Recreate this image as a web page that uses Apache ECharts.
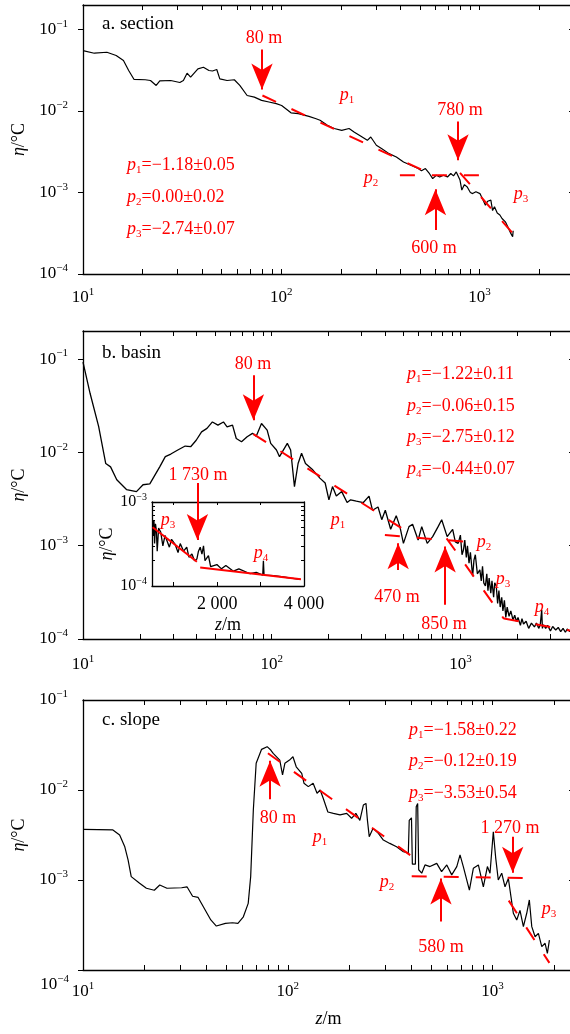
<!DOCTYPE html>
<html>
<head>
<meta charset="utf-8">
<script src="https://cdn.jsdelivr.net/npm/echarts@6/dist/echarts.min.js"></script>
<style>
  html, body { margin: 0; padding: 0; background: #fff; }
  #chart { width: 570px; height: 1034px; }
</style>
</head>
<body>
<div id="chart"></div>
<script>
// a. section
const sectionZ = [10, 11.4, 13.2, 14.7, 16.0, 17.0, 18.1, 20.6, 21.9, 23.4, 24.4, 27.7, 30.8, 32.1, 33.5, 34.9, 38.0, 40.5, 43.2, 45.0,
  47.3, 49.0, 53.3, 58.0, 61.8, 67.3, 73.2, 79.6, 86.7, 94.4, 100.5, 112, 122, 138, 150, 157, 171, 185, 202, 220,
  234, 249, 272, 283, 302, 322, 350, 381, 414, 451, 491, 510, 534, 560, 581, 606, 630, 659, 690, 717,
  740, 764, 798, 815, 840, 868, 900, 924, 960, 1006, 1040, 1072, 1100, 1142, 1165, 1191, 1230, 1268, 1300, 1352,
  1390, 1440, 1460, 1471, 1480];
const sectionEta = [0.0552, 0.0512, 0.0526, 0.048, 0.0416, 0.0314, 0.0244, 0.0242, 0.0237, 0.0206, 0.0234, 0.0237, 0.0224, 0.0237, 0.0291, 0.026, 0.0329, 0.0344, 0.0314, 0.031,
  0.0323, 0.0248, 0.0237, 0.0242, 0.0206, 0.0155, 0.0148, 0.0135, 0.0129, 0.0123, 0.0117, 0.0095, 0.0093, 0.0086, 0.00805, 0.0077, 0.0067, 0.0061, 0.0058, 0.0061,
  0.0055, 0.0050, 0.00437, 0.0048, 0.0038, 0.00345, 0.0030, 0.00273, 0.00237, 0.00216, 0.00197, 0.00185, 0.00197, 0.0017, 0.00148, 0.00163, 0.00155, 0.00163, 0.00155, 0.00171,
  0.0016, 0.00179, 0.00142, 0.00107, 0.00125, 0.00117, 0.0010, 0.00097, 0.00102, 0.00097, 0.00082, 0.0007, 0.00078, 0.000805, 0.0006, 0.00067, 0.00056, 0.00053, 0.00048, 0.000437,
  0.00038, 0.000315, 0.00033, 0.000287, 0.00034];
// fitted segments [z1, eta1, z2, eta2]
const sectionFits = [[80.4, 0.0155, 512, 0.0019], [397, 0.00163, 1000, 0.00163], [798, 0.00174, 1473, 0.000315]];
// break arrows [z, eta at tail, eta at head]
const sectionBreaks = [[80, 0.0568, 0.0184], [780, 0.00746, 0.00248], [600, 0.000346, 0.0011]];

// b. basin
const basinZ = [10, 10.9, 12.1, 13.2, 14.0, 15.1, 17.0, 19.2, 20.8, 22.6, 25.5, 27.3, 29.2, 31.8, 34.8, 37.2, 39.8, 42.5, 45.4, 48.5,
  51.9, 55.5, 58.0, 62.0, 64.9, 69.2, 74.1, 79.1, 82.8, 88.3, 94.6, 98.8, 106, 110, 121, 126, 132, 138, 144, 151,
  165, 180, 192, 201, 210, 220, 235, 251, 262, 281, 306, 328, 342, 366, 383, 400, 427, 457, 478, 499,
  534, 558, 597, 624, 667, 713, 762, 796, 851, 910,
  940, 973, 1000, 1020, 1038, 1055, 1075, 1090, 1111, 1130, 1161, 1180, 1200, 1230, 1268, 1290, 1310, 1330, 1357, 1380,
  1400, 1420, 1449, 1470, 1500, 1520, 1549, 1575, 1600, 1625, 1656, 1680, 1711, 1740, 1770, 1811, 1850, 1900, 1940, 1979,
  2020, 2080, 2120, 2161, 2230, 2300, 2380, 2468, 2530, 2600, 2650, 2698, 2720, 2758, 2830, 2900, 3000, 3083, 3200, 3300,
  3400, 3500, 3600, 3684, 3800, 3900];
const basinEta = [0.093, 0.043, 0.019, 0.0076, 0.0070, 0.0051, 0.0040, 0.0038, 0.0045, 0.0046, 0.0070, 0.0090, 0.0096, 0.0106, 0.0117, 0.0115, 0.0135, 0.0166, 0.0181, 0.0212,
  0.0196, 0.0212, 0.0188, 0.0196, 0.0141, 0.0130, 0.0147, 0.0160, 0.0149, 0.0204, 0.0173, 0.0125, 0.0106, 0.0090, 0.0125, 0.0106, 0.0043, 0.0076, 0.0098, 0.0076,
  0.0065, 0.0053, 0.0047, 0.0031, 0.0043, 0.0034, 0.0038, 0.0029, 0.0031, 0.0030, 0.0029, 0.0034, 0.0024, 0.0026, 0.0019, 0.0024, 0.0015, 0.0021, 0.0016, 0.00106,
  0.0016, 0.0017, 0.00115, 0.0016, 0.00106, 0.00125, 0.0016, 0.0019, 0.00125, 0.0015,
  0.0011, 0.00106, 0.0013, 0.0008, 0.0009, 0.00115, 0.00075, 0.001, 0.00065, 0.00085, 0.00047, 0.0007, 0.0008, 0.0005, 0.00055, 0.00042, 0.0006, 0.0004, 0.00037, 0.0005,
  0.00033, 0.00045, 0.00031, 0.00042, 0.00028, 0.0004, 0.00037, 0.00024, 0.00033, 0.00022, 0.00028, 0.0002, 0.00026, 0.00017, 0.00022, 0.000175, 0.0002, 0.00016, 0.00018, 0.000155,
  0.00017, 0.00014, 0.000165, 0.000145, 0.000155, 0.00013, 0.000148, 0.000135, 0.000148, 0.00013, 0.000142, 0.000206, 0.00013, 0.000142, 0.00013, 0.00014, 0.000122, 0.000136, 0.000125, 0.000133,
  0.00012, 0.00013, 0.000118, 0.000128, 0.00012, 0.000125];
const basinFits = [[80, 0.0157, 488, 0.00154], [398, 0.0013, 1035, 0.00111], [845, 0.0012, 1702, 0.000164], [1702, 0.000166, 3810, 0.000123]];
const basinBreaks = [[80, 0.0671, 0.0221], [468, 0.00055, 0.00106], [830, 0.000233, 0.00098], [40.4, 0.0047, 0.00115]];

// b. inset (linear depth)
const insetZ = [514, 530, 545, 560, 580, 600, 620, 652, 700, 750, 800, 845, 900, 950, 1036, 1100, 1150, 1227, 1300, 1350,
  1419, 1480, 1534, 1570, 1610, 1650, 1686, 1720, 1800, 1850, 1994, 2100, 2200, 2375, 2500, 2759, 2900, 3050, 3065, 3080,
  3300, 3525, 3700, 3908];
const insetEta = [6.1e-4, 4.0e-4, 6.1e-4, 3.2e-4, 5.5e-4, 4.6e-4, 2.6e-4, 4.9e-4, 4.4e-4, 3.0e-4, 4.0e-4, 3.9e-4, 2.9e-4, 3.6e-4, 3.1e-4, 2.5e-4, 3.2e-4, 2.6e-4, 2.9e-4, 2.2e-4,
  2.4e-4, 2.0e-4, 2.1e-4, 2.6e-4, 2.9e-4, 2.4e-4, 3.0e-4, 2.0e-4, 2.3e-4, 1.7e-4, 1.8e-4, 1.6e-4, 1.75e-4, 1.5e-4, 1.6e-4, 1.4e-4, 1.45e-4, 1.35e-4, 2.0e-4, 1.35e-4,
  1.33e-4, 1.28e-4, 1.24e-4, 1.2e-4];
const insetFits = [[514, 0.0005, 1534, 0.000194], [1610, 0.000166, 3930, 0.00012]];

// c. slope
const slopeZ = [10, 14.0, 15.1, 16.0, 16.6, 17.2, 18.9, 20.4, 22.3, 23.7, 25.7, 30.3, 32.2, 34.3, 36.5, 38.7, 42.1, 44.8, 49.6, 53.7,
  57.1, 60.7, 64.1, 65.9, 67.9, 70.1, 74.5, 79.3, 82.6, 84.9, 91.4, 94.3, 96.8, 102, 106, 110, 117, 120, 126, 133,
  139, 144, 149, 157, 167, 180, 194, 205, 215, 225, 234, 241, 245, 250, 261, 277, 293, 315, 340, 367,
  388, 392, 402, 406, 420, 424, 431, 436, 451, 468, 495, 534, 564, 598, 632, 669, 694, 720, 771, 806,
  853, 902, 944, 972, 1009, 1037, 1067, 1109, 1151, 1195, 1231, 1264, 1313, 1362, 1415, 1469, 1513, 1555, 1614, 1675,
  1740, 1806, 1853, 1896];
const slopeEta = [0.00366, 0.0036, 0.00316, 0.00234, 0.00167, 0.00109, 0.00092, 0.00081, 0.00077, 0.00088, 0.00081, 0.00082, 0.00084, 0.00066, 0.00064, 0.000505, 0.00036, 0.000308, 0.00033, 0.000335,
  0.00033, 0.00039, 0.00055, 0.00109, 0.006, 0.0198, 0.0283, 0.0303, 0.0278, 0.0255, 0.0215, 0.0147, 0.0198, 0.0215, 0.0234, 0.0181, 0.0153, 0.0119, 0.0109, 0.0119,
  0.0092, 0.0100, 0.0081, 0.0057, 0.0055, 0.0053, 0.0055, 0.00485, 0.0055, 0.0046, 0.0068, 0.0071, 0.0046, 0.00303, 0.00375, 0.0033, 0.00278, 0.00255, 0.00234, 0.00206,
  0.0020, 0.0046, 0.0049, 0.0015, 0.0015, 0.0065, 0.0071, 0.0013, 0.00119, 0.00147, 0.00141, 0.00153, 0.00124, 0.00147, 0.00114, 0.00141, 0.0019, 0.00141, 0.00077, 0.00135,
  0.00147, 0.00084, 0.00141, 0.00119, 0.00344, 0.00174, 0.0010, 0.00119, 0.00084, 0.00104, 0.00065, 0.000427, 0.00036, 0.00046, 0.000303, 0.000427, 0.0006, 0.000303, 0.000234, 0.000255,
  0.000182, 0.000198, 0.000153, 0.000215];
const slopeFits = [[80, 0.0256, 462, 0.00147], [403, 0.0011, 1406, 0.00105], [1200, 0.00059, 1896, 0.00012]];
const slopeBreaks = [[82, 0.0079, 0.0212], [560, 0.000345, 0.00104], [1255, 0.00303, 0.0012]];

// ticks
const zTicks = [10, 20, 30, 40, 50, 60, 70, 80, 90, 100, 200, 300, 400, 500, 600, 700, 800, 900, 1000, 2000, 3000, 4000];
const etaTicks = [1e-4, 1e-3, 1e-2, 1e-1];
const insetZTicks = [1000, 2000, 3000];
const insetZLabels = [2000, 4000];
const insetEtaTicks = [1e-4, 2e-4, 3e-4, 4e-4, 5e-4, 6e-4, 7e-4, 8e-4, 9e-4, 1e-3];

const FONT = '"Liberation Serif", "Times New Roman", serif';
const RED = '#ff0000';

const tickRich = {
  b: { fontFamily: FONT, fontSize: 17, lineHeight: 22, color: '#000' },
  e: { fontFamily: FONT, fontSize: 11, lineHeight: 12, color: '#000', verticalAlign: 'top' }
};
const insetRich = {
  b: { fontFamily: FONT, fontSize: 16, lineHeight: 20, color: '#000' },
  e: { fontFamily: FONT, fontSize: 10, lineHeight: 11, color: '#000', verticalAlign: 'top' }
};

function powLabel(v) {
  const e = Math.log10(v), r = Math.round(e);
  if (Math.abs(e - r) > 1e-6) return '';
  return '{b|10}{e|' + String(r).replace('-', '\u2212') + '}';
}

function zip(xs, ys) { return xs.map((x, i) => [x, ys[i]]); }

const grids = [], xAxes = [], yAxes = [], series = [];
const frameLine = { show: true, onZero: false, lineStyle: { color: '#000', width: 1.3 } };
const tickStyle = { color: '#000', width: 1 };

function addGrid(left, top, width, height) {
  grids.push({ left, top, width, height, containLabel: false, outerBoundsMode: 'none', show: false });
  return grids.length - 1;
}

function mainAxes(g, xMax, yMax, labelMargin, withName) {
  const common = { type: 'log', logBase: 10, gridIndex: g, min: 10, max: xMax, splitLine: { show: false }, minorTick: { show: false }, axisLine: frameLine };
  xAxes.push(Object.assign({}, common, {
    position: 'bottom',
    axisTick: { show: true, inside: true, length: 5, customValues: zTicks, lineStyle: tickStyle },
    axisLabel: { show: true, margin: labelMargin, formatter: powLabel, rich: tickRich, fontFamily: FONT, fontSize: 17, color: '#000' },
    name: withName ? '{i|z}/m' : '',
    nameLocation: 'middle', nameGap: 40,
    nameTextStyle: { fontFamily: FONT, fontSize: 18, color: '#000', rich: { i: { fontFamily: FONT, fontSize: 18, fontStyle: 'italic', color: '#000' } } }
  }));
  xAxes.push(Object.assign({}, common, {
    position: 'top',
    axisTick: { show: true, inside: true, length: 5, customValues: zTicks, lineStyle: tickStyle },
    axisLabel: { show: false }
  }));
  const ycommon = { type: 'log', logBase: 10, gridIndex: g, min: 1e-4, max: yMax, splitLine: { show: false }, minorTick: { show: false }, axisLine: frameLine };
  yAxes.push(Object.assign({}, ycommon, {
    position: 'left',
    axisTick: { show: true, inside: false, length: 5, customValues: etaTicks, lineStyle: tickStyle },
    axisLabel: {
      show: true, margin: 15, rich: tickRich, fontFamily: FONT, fontSize: 17, color: '#000',
      formatter: v => (g === 2 && v < 2e-4) ? '' : powLabel(v)
    },
    name: '{i|\u03b7}/\u00b0C', nameLocation: 'middle', nameRotate: 90, nameGap: 54,
    nameTextStyle: { fontFamily: FONT, fontSize: 18, color: '#000', rich: { i: { fontFamily: FONT, fontSize: 18, fontStyle: 'italic', color: '#000' } } }
  }));
  yAxes.push(Object.assign({}, ycommon, {
    position: 'right',
    axisTick: { show: true, inside: true, length: 5, customValues: etaTicks, lineStyle: tickStyle },
    axisLabel: { show: false }
  }));
}

function curve(g, z, eta, width) {
  return { type: 'line', xAxisIndex: 2 * g, yAxisIndex: 2 * g, data: zip(z, eta), symbol: 'none', silent: true,
    lineStyle: { color: '#000', width: width || 1.2 }, z: 3 };
}
function fitSeries(g, fits, dashed) {
  return fits.map(f => ({
    type: 'line', xAxisIndex: 2 * g, yAxisIndex: 2 * g, data: [[f[0], f[1]], [f[2], f[3]]], symbol: 'none', silent: true,
    lineStyle: { color: RED, width: 2, type: dashed ? [15, 17] : 'solid' }, z: 4
  }));
}
function arrowMarks(list) {
  return {
    silent: true, symbol: ['none', 'arrow'], symbolSize: [16, 26], animation: false,
    lineStyle: { color: RED, width: 2, type: 'solid' }, label: { show: false },
    emphasis: { disabled: true },
    data: list.map(a => [{ coord: [a[0], a[1]] }, { coord: [a[0], a[2]] }])
  };
}

// panel a
let g = addGrid(83, 5, 491, 269);
mainAxes(g, 3000, 0.2, 13, false);
let s = curve(g, sectionZ, sectionEta);
s.markLine = arrowMarks(sectionBreaks);
series.push(s, ...fitSeries(g, sectionFits, true));

// panel b
g = addGrid(83, 331, 491, 308);
mainAxes(g, 4000, 0.2, 15, false);
s = curve(g, basinZ, basinEta, 1.3);
s.markLine = arrowMarks(basinBreaks);
series.push(s, ...fitSeries(g, basinFits, true));

// panel c
g = addGrid(83, 700, 491, 270);
mainAxes(g, 2500, 0.1, 11, true);
s = curve(g, slopeZ, slopeEta);
s.markLine = arrowMarks(slopeBreaks);
series.push(s, ...fitSeries(g, slopeFits, true));

// inset of panel b
g = addGrid(152, 502, 152, 84);
const ix = { type: 'value', gridIndex: g, min: 500, max: 4000, splitLine: { show: false }, axisLine: frameLine };
xAxes.push(Object.assign({}, ix, {
  position: 'bottom',
  axisTick: { show: true, inside: true, length: 4, customValues: insetZTicks, lineStyle: tickStyle },
  axisLabel: { show: true, margin: 9, customValues: insetZLabels, fontFamily: FONT, fontSize: 18, color: '#000',
    formatter: v => String(v).replace(/(\d)(\d{3})$/, '$1 $2') },
  name: '{i|z}/m', nameLocation: 'middle', nameGap: 30,
  nameTextStyle: { fontFamily: FONT, fontSize: 18, color: '#000', rich: { i: { fontFamily: FONT, fontSize: 18, fontStyle: 'italic', color: '#000' } } }
}));
xAxes.push(Object.assign({}, ix, {
  position: 'top',
  axisTick: { show: true, inside: true, length: 3, customValues: insetZTicks, lineStyle: tickStyle },
  axisLabel: { show: false }
}));
const iy = { type: 'log', logBase: 10, gridIndex: g, min: 1e-4, max: 1e-3, splitLine: { show: false }, minorTick: { show: false }, axisLine: frameLine };
yAxes.push(Object.assign({}, iy, {
  position: 'left',
  axisTick: { show: true, inside: true, length: 3, customValues: insetEtaTicks, lineStyle: tickStyle },
  axisLabel: { show: true, margin: 5, formatter: powLabel, rich: insetRich, fontFamily: FONT, fontSize: 16, color: '#000' },
  name: '{i|\u03b7}/\u00b0C', nameLocation: 'middle', nameRotate: 90, nameGap: 36,
  nameTextStyle: { fontFamily: FONT, fontSize: 18, color: '#000', rich: { i: { fontFamily: FONT, fontSize: 18, fontStyle: 'italic', color: '#000' } } }
}));
yAxes.push(Object.assign({}, iy, {
  position: 'right',
  axisTick: { show: true, inside: true, length: 3, customValues: insetEtaTicks, lineStyle: tickStyle },
  axisLabel: { show: false }
}));
series.push(curve(g, insetZ, insetEta, 1.3));
series.push(...fitSeries(g, insetFits, false));

// annotation texts
function annRich(color) {
  return {
    n: { fontFamily: FONT, fontSize: 18, lineHeight: 22, fill: color, color: color },
    i: { fontFamily: FONT, fontSize: 18, lineHeight: 22, fontStyle: 'italic', fill: color, color: color },
    s: { fontFamily: FONT, fontSize: 11, lineHeight: 12, verticalAlign: 'bottom', fill: color, color: color },
    b: { fontFamily: FONT, fontSize: 17, lineHeight: 22, fill: color, color: color },
    e: { fontFamily: FONT, fontSize: 11, lineHeight: 12, verticalAlign: 'top', fill: color, color: color }
  };
}
function txt(x, y, text, align, color, size) {
  const c = color || RED;
  return {
    type: 'text', x: x, y: y, silent: true, z: 100,
    style: { text: text, rich: annRich(c), fill: c, font: (size || 18) + 'px ' + FONT,
      align: align || 'center', textAlign: align || 'center', verticalAlign: 'middle', textVerticalAlign: 'middle' }
  };
}
const p = n => '{i|p}{s|' + n + '}';
const texts = [
  txt(102, 24, 'a. section', 'left', '#000', 19),
  txt(264, 38, '80 m'), txt(460, 110, '780 m'), txt(434, 248, '600 m'),
  txt(347, 95, p(1)), txt(371, 178, p(2)), txt(521, 194, p(3)),
  txt(127, 165, p(1) + '{n|=\u22121.18\u00b10.05}', 'left'),
  txt(127, 197, p(2) + '{n|=0.00\u00b10.02}', 'left'),
  txt(127, 229, p(3) + '{n|=\u22122.74\u00b10.07}', 'left'),

  txt(102, 353, 'b. basin', 'left', '#000', 19),
  txt(253, 364, '80 m'), txt(198, 475, '1 730 m'), txt(397, 597, '470 m'), txt(444, 624, '850 m'),
  txt(338, 520, p(1)), txt(484, 542, p(2)), txt(503, 579, p(3)), txt(542, 607, p(4)),
  txt(168, 520, p(3)), txt(261, 553, p(4)),
  txt(407, 374, p(1) + '{n|=\u22121.22\u00b10.11}', 'left'),
  txt(407, 406, p(2) + '{n|=\u22120.06\u00b10.15}', 'left'),
  txt(407, 437, p(3) + '{n|=\u22122.75\u00b10.12}', 'left'),
  txt(407, 469, p(4) + '{n|=\u22120.44\u00b10.07}', 'left'),

  txt(102, 720, 'c. slope', 'left', '#000', 19),
  txt(278, 818, '80 m'), txt(441, 947, '580 m'), txt(510, 828, '1 270 m'),
  txt(320, 837, p(1)), txt(387, 882, p(2)), txt(549, 909, p(3)),
  txt(409, 730, p(1) + '{n|=\u22121.58\u00b10.22}', 'left'),
  txt(409, 761, p(2) + '{n|=\u22120.12\u00b10.19}', 'left'),
  txt(409, 793, p(3) + '{n|=\u22123.53\u00b10.54}', 'left'),
  txt(69, 985, '{b|10}{e|\u22124}', 'right', '#000', 17)
];

const chart = echarts.init(document.getElementById('chart'), null, { renderer: 'canvas' });
chart.setOption({
  animation: false,
  backgroundColor: '#fff',
  grid: grids,
  xAxis: xAxes,
  yAxis: yAxes,
  series: series,
  graphic: { elements: texts }
});
</script>
</body>
</html>
